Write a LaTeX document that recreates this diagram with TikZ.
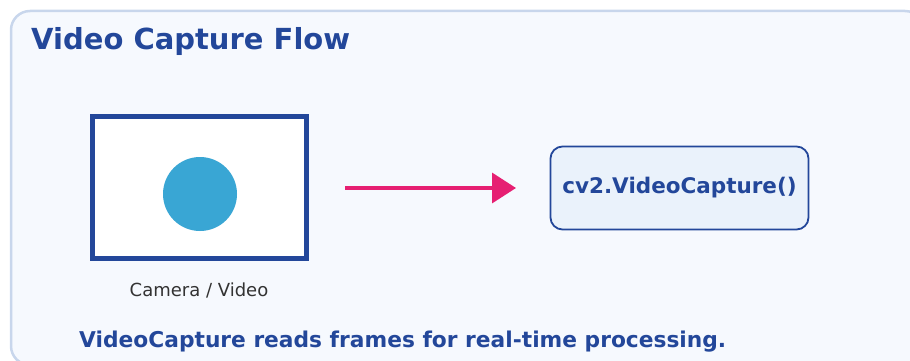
\documentclass[tikz,border=0pt]{standalone}
\usepackage{fontspec}
\setmainfont{DejaVu Sans}
\usetikzlibrary{arrows.meta}
\definecolor{dblue}{HTML}{23479A}
\definecolor{bgfill}{HTML}{F6F9FE}
\definecolor{bgline}{HTML}{C8D6EC}
\definecolor{circ}{HTML}{39A6D4}
\definecolor{pinkc}{HTML}{E61F72}
\definecolor{boxfill}{HTML}{EAF2FB}
\definecolor{capgray}{HTML}{333333}
\tikzset{
  outer/.style={draw=bgline, line width=2.5pt, fill=bgfill, rounded corners=19pt},
  cambox/.style={draw=dblue, line width=4.5pt, fill=white, minimum width=214pt, minimum height=142pt, inner sep=0pt},
  lens/.style={circle, fill=circ, minimum size=74pt, inner sep=0pt},
  apibox/.style={draw=dblue, line width=1.8pt, fill=boxfill, rounded corners=12pt, minimum width=258pt, minimum height=83pt, inner sep=0pt, text=dblue, font=\bfseries\fontsize{21.5}{24}\selectfont},
  flow/.style={draw=pinkc, line width=3.5pt, -{Triangle[length=24pt,width=30pt]}},
}
\begin{document}
\begin{tikzpicture}[x=1pt,y=-1pt]
\useasboundingbox (0,0) rectangle (910,361);
\path[outer] (11,11) rectangle (924,365);
\node[anchor=base west, inner sep=0pt, text=dblue, font=\bfseries\fontsize{29}{32}\selectfont] (title) at (31,49) {Video Capture Flow};
\node[cambox] (cam) at (199.5,187.5) {};
\node[lens] (lens) at (200,194) {};
\node[anchor=base, inner sep=0pt, text=capgray, font=\fontsize{18}{20}\selectfont] (caplbl) at (199,296) {Camera / Video};
\node[apibox] (api) at (679.5,188) {cv2.VideoCapture()};
\coordinate (a0) at (345,188);
\coordinate (a1) at (516,188);
\draw[flow] (a0) -- (a1);
\node[anchor=base west, inner sep=0pt, text=dblue, font=\bfseries\fontsize{21.75}{24}\selectfont] (note) at (79,347) {VideoCapture reads frames for real-time processing.};
\end{tikzpicture}
\end{document}
